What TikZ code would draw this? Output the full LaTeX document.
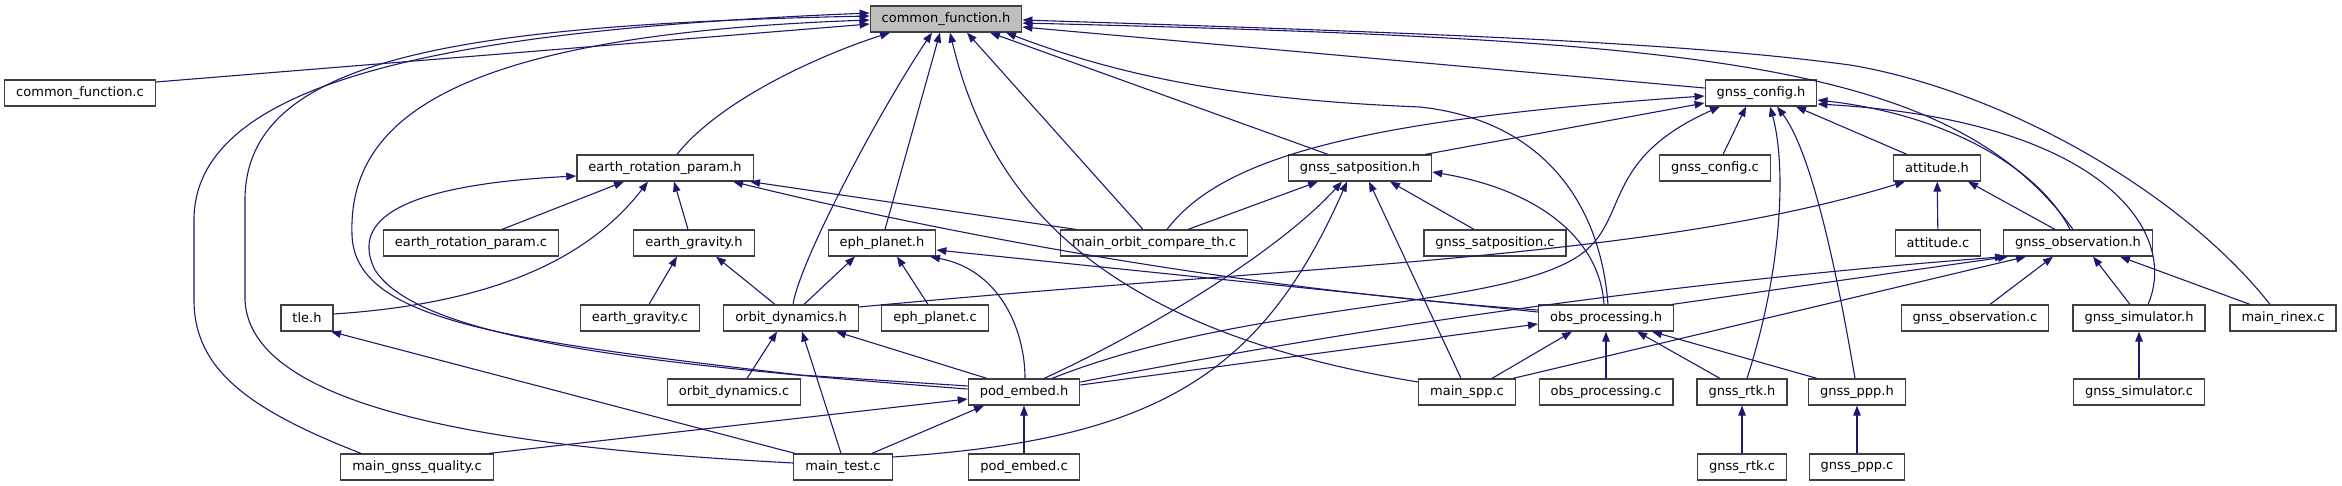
\documentclass[tikz,border=0pt]{standalone}
\usepackage{fontspec}
\setmainfont{DejaVu Sans}
\usetikzlibrary{arrows.meta}
\definecolor{edgec}{HTML}{191970}
\definecolor{boxline}{HTML}{404040}
\definecolor{hilite}{HTML}{BFBFBF}
\begin{document}
\begin{tikzpicture}[x=1pt,y=-1pt,
  file/.style={draw=boxline, line width=1.2pt, fill=white, minimum height=26pt, inner xsep=11.5pt, inner ysep=0pt, font=\fontsize{13}{15}\selectfont},
  focus/.style={file, fill=hilite},
  dep/.style={draw=edgec, line width=1.1pt, -{Triangle[length=10pt,width=7.5pt]}}]
\useasboundingbox (0,0) rectangle (2342,485);
% nodes
\node[focus] (cfh) at (946,19) {common\_function.h};
\node[file] (cfc) at (80,93) {common\_function.c};
\node[file] (gch) at (1761,93) {gnss\_config.h};
\node[file] (erh) at (665,168) {earth\_rotation\_param.h};
\node[file] (gsh) at (1360,168) {gnss\_satposition.h};
\node[file] (gcc) at (1715,168) {gnss\_config.c};
\node[file] (ath) at (1937,168) {attitude.h};
\node[file] (erc) at (471,243) {earth\_rotation\_param.c};
\node[file] (egh) at (694,243) {earth\_gravity.h};
\node[file] (eph) at (882,243) {eph\_planet.h};
\node[file] (moc) at (1154,243) {main\_orbit\_compare\_th.c};
\node[file] (gsc) at (1495,243) {gnss\_satposition.c};
\node[file] (atc) at (1938,243) {attitude.c};
\node[file] (goh) at (2078,243) {gnss\_observation.h};
\node[file] (tle) at (307,318) {tle.h};
\node[file] (egc) at (640,318) {earth\_gravity.c};
\node[file] (odh) at (791,318) {orbit\_dynamics.h};
\node[file] (epc) at (935,318) {eph\_planet.c};
\node[file] (oph) at (1606,318) {obs\_processing.h};
\node[file] (goc) at (1975,318) {gnss\_observation.c};
\node[file] (gsmh) at (2139,318) {gnss\_simulator.h};
\node[file] (mrc) at (2283,318) {main\_rinex.c};
\node[file] (odc) at (734,392) {orbit\_dynamics.c};
\node[file] (peh) at (1024,392) {pod\_embed.h};
\node[file] (mspp) at (1467,392) {main\_spp.c};
\node[file] (opc) at (1606,392) {obs\_processing.c};
\node[file] (grh) at (1742,392) {gnss\_rtk.h};
\node[file] (gph) at (1857,392) {gnss\_ppp.h};
\node[file] (gsmc) at (2139,392) {gnss\_simulator.c};
\node[file] (mgq) at (417,467) {main\_gnss\_quality.c};
\node[file] (mtc) at (843,467) {main\_test.c};
\node[file] (pec) at (1024,467) {pod\_embed.c};
\node[file] (grc) at (1742,467) {gnss\_rtk.c};
\node[file] (gpc) at (1857,467) {gnss\_ppp.c};
% edges into common_function.h
\draw[dep] ([yshift=11]cfc.east) -- ([yshift=-5]cfh.west);
\draw[dep] ([xshift=12]erh.north) .. controls (720,100) and (820,55) .. ([xshift=-56]cfh.south);
\draw[dep] ([yshift=5]gch.west) -- ([yshift=-8]cfh.east);
\draw[dep] ([xshift=-32]gsh.north) -- ([xshift=44]cfh.south);
\draw[dep] ([xshift=3]eph.north) -- ([xshift=-6]cfh.south);
\draw[dep] ([xshift=2]odh.north) .. controls (800,260) and (880,110) .. ([xshift=-14]cfh.south);
\draw[dep] ([xshift=-11]moc.north) -- ([xshift=21]cfh.south);
\draw[dep] ([yshift=10]mspp.west) .. controls (1100,330) and (990,200) .. ([xshift=4]cfh.south);
\draw[dep] ([xshift=2]oph.north) .. controls (1600,200) and (1540,120) .. (1420,107) .. controls (1250,100) and (1130,80) .. ([xshift=60]cfh.south);
\draw[dep] ([xshift=-5]goh.north) .. controls (1950,60) and (1700,40) .. ([yshift=-4]cfh.east);
\draw[dep] ([xshift=-13]mrc.north) .. controls (2180,190) and (2000,90) .. (1850,65) .. controls (1700,45) and (1500,35) .. ([yshift=-1]cfh.east);
\draw[dep] ([yshift=6]peh.west) -- (800,375) .. controls (500,340) and (355,320) .. (352,235) .. controls (348,120) and (450,35) .. ([yshift=-1]cfh.west);
\draw[dep] ([xshift=-56]mgq.north) .. controls (250,410) and (194,370) .. (194,300) -- (194,220) .. controls (194,80) and (450,30) .. ([yshift=6]cfh.west);
\draw[dep] ([yshift=4]mtc.west) .. controls (550,450) and (250,420) .. (245,300) -- (245,200) .. controls (245,60) and (450,25) .. ([yshift=3]cfh.west);
% edges into gnss_config.h
\draw[dep] ([xshift=65]gsh.north) -- ([yshift=-10]gch.west);
\draw[dep] ([xshift=13]moc.north) .. controls (1220,160) and (1350,120) .. ([yshift=-3]gch.west);
\draw[dep] ([xshift=28]peh.north) .. controls (1250,300) and (1500,310) .. (1580,255) .. controls (1630,220) and (1600,160) .. ([xshift=-41]gch.south);
\draw[dep] ([xshift=5]grh.north) .. controls (1785,260) and (1785,160) .. ([xshift=9]gch.south);
\draw[dep] ([xshift=-2]gph.north) .. controls (1835,260) and (1810,150) .. ([xshift=16]gch.south);
\draw[dep] ([xshift=8]gcc.north) -- ([xshift=-15]gch.south);
\draw[dep] ([xshift=-30]ath.north) -- ([xshift=35]gch.south);
\draw[dep] ([xshift=-8]goh.north) .. controls (2040,170) and (1950,115) .. ([yshift=-7]gch.east);
\draw[dep] ([xshift=9]gsmh.north) .. controls (2180,230) and (2100,120) .. ([yshift=-11]gch.east);
% edges into earth_rotation_param.h
\draw[dep] ([xshift=31]erc.north) -- ([xshift=-41]erh.south);
\draw[dep] ([yshift=4]tle.east) .. controls (470,305) and (580,270) .. ([xshift=-17]erh.south);
\draw[dep] ([xshift=-6]egh.north) -- ([xshift=9]erh.south);
\draw[dep] ([yshift=3]peh.west) .. controls (650,365) and (420,340) .. (375,270) .. controls (350,220) and (400,185) .. ([yshift=-8]erh.west);
\draw[dep] ([yshift=8]oph.west) .. controls (1250,290) and (950,235) .. ([xshift=68]erh.south);
\draw[dep] ([xshift=-78]moc.north) -- ([xshift=85]erh.south);
% earth_gravity.h, eph_planet.h, orbit_dynamics.h
\draw[dep] ([xshift=9]egc.north) -- ([xshift=-17]egh.south);
\draw[dep] ([xshift=-16]odh.north) -- ([xshift=22]egh.south);
\draw[dep] ([xshift=13]odh.north) -- ([xshift=-27]eph.south);
\draw[dep] ([xshift=-7]epc.north) -- ([xshift=15]eph.south);
\draw[dep] ([xshift=1]peh.north) .. controls (1025,330) and (1000,270) .. ([xshift=48]eph.south);
\draw[dep] ([yshift=6]oph.west) -- ([yshift=-7]eph.east);
\draw[dep] ([xshift=13]odc.north) -- ([xshift=-14]odh.south);
\draw[dep] ([xshift=-2]mtc.north) -- ([xshift=11]odh.south);
\draw[dep] ([xshift=-37]peh.north) -- ([xshift=45]odh.south);
% attitude.h
\draw[dep] ([yshift=11]odh.east) .. controls (1300,265) and (1650,260) .. ([xshift=-32]ath.south);
\draw[dep] (atc) -- (ath);
\draw[dep] ([xshift=-23]goh.north) -- ([xshift=31]ath.south);
% gnss_satposition.h
\draw[dep] ([xshift=34]moc.north) -- ([xshift=-42]gsh.south);
\draw[dep] ([xshift=20]peh.north) .. controls (1150,330) and (1280,250) .. ([xshift=-18]gsh.south);
\draw[dep] ([yshift=10]mtc.east) .. controls (1150,440) and (1260,380) .. ([xshift=-13]gsh.south);
\draw[dep] ([xshift=-6]mspp.north) -- ([xshift=9]gsh.south);
\draw[dep] ([xshift=-21]gsc.north) -- ([xshift=30]gsh.south);
\draw[dep] ([xshift=-2]oph.north) .. controls (1600,240) and (1540,190) .. ([yshift=-4]gsh.east);
% gnss_observation.h
\draw[dep] ([xshift=66]oph.north) -- ([xshift=-70]goh.south);
\draw[dep] ([yshift=10]peh.east) .. controls (1400,320) and (1700,280) .. ([xshift=-73]goh.south);
\draw[dep] ([xshift=46]mspp.north) -- ([xshift=-52]goh.south);
\draw[dep] ([xshift=15]goc.north) -- ([xshift=-25]goh.south);
\draw[dep] ([xshift=-9]gsmh.north) -- ([xshift=15]goh.south);
\draw[dep] ([xshift=-33]mrc.north) -- ([xshift=42]goh.south);
% obs_processing.h
\draw[dep] ([yshift=7]peh.east) -- ([yshift=-6]oph.west);
\draw[dep] ([xshift=25]mspp.north) -- ([xshift=-34]oph.south);
\draw[dep] (opc) -- (oph);
\draw[dep] ([xshift=-22]grh.north) -- ([xshift=31]oph.south);
\draw[dep] ([xshift=-40]gph.north) -- ([xshift=46]oph.south);
% pod_embed.h, tle.h, leaves
\draw[dep] ([xshift=72]mgq.north) -- ([yshift=-7]peh.west);
\draw[dep] ([xshift=29]mtc.north) -- ([xshift=-40]peh.south);
\draw[dep] (pec) -- (peh);
\draw[dep] ([xshift=-48]mtc.north) -- ([xshift=24]tle.south);
\draw[dep] (gsmc) -- (gsmh);
\draw[dep] (grc) -- (grh);
\draw[dep] (gpc) -- (gph);
\end{tikzpicture}
\end{document}
